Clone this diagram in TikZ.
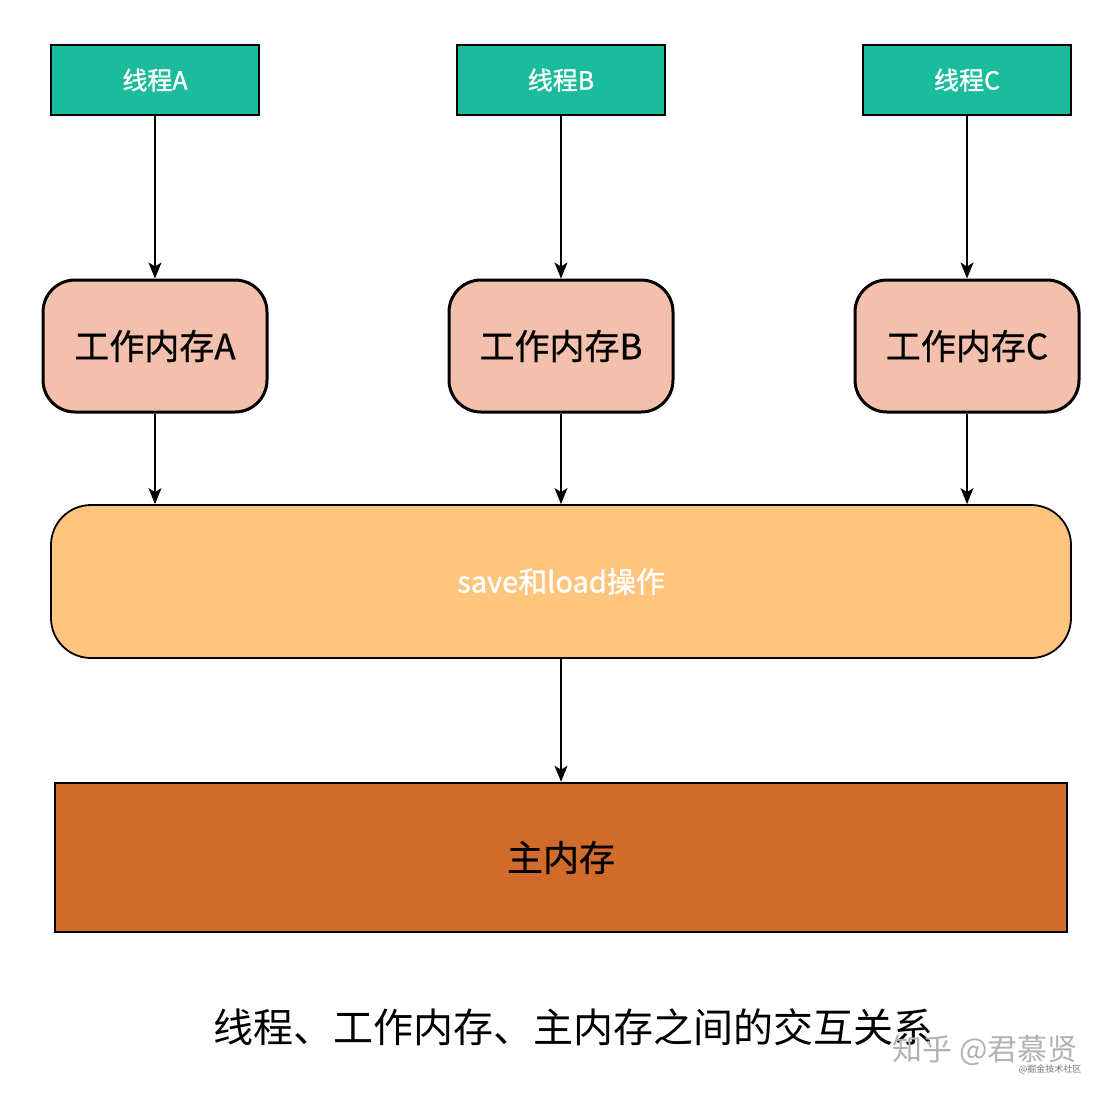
\documentclass[tikz,border=0pt]{standalone}
\usepackage{fontspec}
\setmainfont{Noto Sans CJK SC}
\newfontfamily\boldish{Noto Sans CJK SC}[FakeBold=1.2]
\newfontfamily\medish{Noto Sans CJK SC}[FakeBold=0.6]
\usepackage{tikz}
\usetikzlibrary{positioning,arrows.meta}
\definecolor{threadgreen}{HTML}{1ABC9C}
\definecolor{workpink}{HTML}{F4C0AE}
\definecolor{oplight}{HTML}{FFC47E}
\definecolor{mainbrown}{HTML}{D06B2C}
\tikzset{threadbox/.style={rectangle, draw=black, fill=threadgreen, line width=2pt, minimum width=208pt, minimum height=70pt, inner sep=0pt, text=white, font=\boldish\fontsize{25}{30}\selectfont},
workbox/.style={rectangle, rounded corners=32pt, draw=black, fill=workpink, line width=3pt, minimum width=224pt, minimum height=132pt, inner sep=0pt, font=\medish\fontsize{35}{42}\selectfont},
opbox/.style={rectangle, rounded corners=40pt, draw=black, fill=oplight, line width=1.8pt, minimum width=1020pt, minimum height=153pt, inner sep=0pt, text=white, font=\boldish\fontsize{29}{34}\selectfont},
mainbox/.style={rectangle, draw=black, fill=mainbrown, line width=2.5pt, minimum width=1012pt, minimum height=149pt, inner sep=0pt, font=\medish\fontsize{36}{42}\selectfont},
flow/.style={line width=1.4pt, -{Stealth[length=16pt,width=13pt,inset=4pt]}},}

\begin{document}
\begin{tikzpicture}[x=1pt, y=-1pt]
\useasboundingbox (0,0) rectangle (1114,1096);
\node [threadbox] (thrA) at (155,80) {线程A};
\node [threadbox] (thrB) at (561,80) {线程B};
\node [threadbox] (thrC) at (967,80) {线程C};
\node [workbox] (memA) at (155,346) {工作内存A};
\node [workbox] (memB) at (561,346) {工作内存B};
\node [workbox] (memC) at (967,346) {工作内存C};
\node [opbox] (saveload) at (561,581.5) {save和load操作};
\node [mainbox] (mainmem) at (561,857.5) {主内存};
\node (caption) at (573,1027) {\fontsize{40}{46}\selectfont 线程、工作内存、主内存之间的交互关系};
% watermark
\node [text=black!30] (zhihu) at (985,1050) {\fontsize{30}{34}\selectfont 知乎 @君慕贤};
\node [text=black!55] (juejin) at (1050,1069) {\fontsize{9}{10}\selectfont @掘金技术社区};
\draw[flow] (thrA) -- (memA);
\draw[flow] (thrB) -- (memB);
\draw[flow] (thrC) -- (memC);
\draw[flow] (memA) -- (memA |- saveload.north);
\draw[flow] (memB) -- (saveload);
\draw[flow] (memC) -- (memC |- saveload.north);
\draw[flow] (saveload) -- (mainmem);
\end{tikzpicture}
\end{document}
